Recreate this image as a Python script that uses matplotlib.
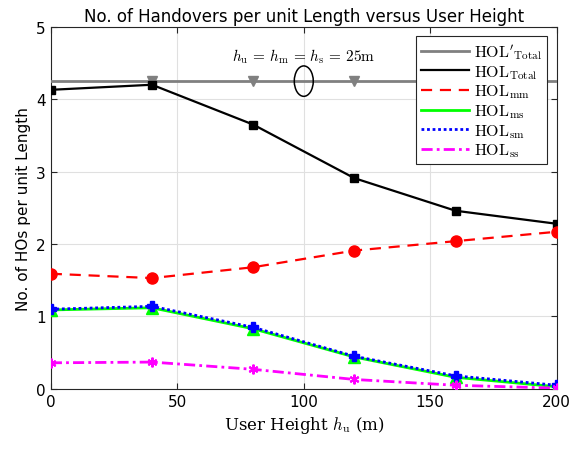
import numpy as np
import matplotlib
matplotlib.use('Agg')
import matplotlib.pyplot as plt
from matplotlib.patches import Ellipse
from matplotlib.lines import Line2D

plt.rcParams['mathtext.fontset'] = 'cm'
plt.rcParams['font.family'] = 'DejaVu Sans'

# user height (m)
h_u = [0, 40, 80, 120, 160, 200]
hol_total_p = [4.25, 4.25, 4.25, 4.25, 4.25, 4.25]
hol_total = [4.13, 4.20, 3.65, 2.91, 2.46, 2.28]
hol_mm = [1.59, 1.53, 1.68, 1.91, 2.04, 2.17]
hol_ms = [1.09, 1.12, 0.83, 0.44, 0.16, 0.03]
hol_sm = [1.10, 1.14, 0.85, 0.45, 0.18, 0.05]
hol_ss = [0.36, 0.37, 0.27, 0.13, 0.05, 0.01]

fig = plt.figure(figsize=(5.71, 4.56), dpi=100)
ax = fig.add_axes([0.089, 0.145, 0.886, 0.794])

styles = [
    dict(c='#808080', lw=2),
    dict(c='k', lw=1.6),
    dict(c='r', lw=1.6, ls=(0, (5, 3.5))),
    dict(c='#00ff00', lw=2),
    dict(c='b', lw=2, ls=(0, (1, 1))),
    dict(c='#ff00ff', lw=2, ls=(0, (4, 1.5, 1, 1.5))),
]
labels = [r"$\mathrm{HOL}'_{\mathrm{Total}}$", r'$\mathrm{HOL}_{\mathrm{Total}}$', r'$\mathrm{HOL}_{\mathrm{mm}}$',
          r'$\mathrm{HOL}_{\mathrm{ms}}$', r'$\mathrm{HOL}_{\mathrm{sm}}$', r'$\mathrm{HOL}_{\mathrm{ss}}$']

ax.plot(h_u, hol_total_p, marker='v', ms=7, markevery=[1, 2, 3, 4], zorder=3, **styles[0])
ax.plot(h_u, hol_total, marker='s', ms=6, zorder=4, **styles[1])
ax.plot(h_u, hol_mm, marker='o', ms=8, zorder=4, **styles[2])
ax.plot(h_u, hol_ms, marker='^', ms=8, zorder=4, **styles[3])
ax.plot(h_u, hol_sm, marker='P', ms=7, zorder=5, **styles[4])
ax.plot(h_u, hol_ss, marker=(6, 2, 0), ms=7, mew=1.5, zorder=5, **styles[5])

ax.add_patch(Ellipse((100, 4.25), 7.5, 0.42, fill=False, ec='k', lw=1.1, zorder=6))
ax.text(100, 4.6, r'$h_{\mathrm{u}}\,=\,h_{\mathrm{m}}\,=\,h_{\mathrm{s}}\,=\,25\mathrm{m}$',
        ha='center', va='center', fontsize=11)

ax.set_xlim(0, 200)
ax.set_ylim(0, 5)
ax.set_xticks([0, 50, 100, 150, 200])
ax.set_yticks([0, 1, 2, 3, 4, 5])
ax.grid(True, color='#e0e0e0', lw=0.8)
ax.set_axisbelow(True)
ax.tick_params(direction='in', top=True, right=True, labelsize=11, color='#262626', length=4)
for s in ax.spines.values():
    s.set_color('#262626')
    s.set_linewidth(0.8)

ax.set_title('No. of Handovers per unit Length versus User Height', fontsize=12, pad=4)
ax.set_ylabel('No. of HOs per unit Length', fontsize=11)
ax.set_xlabel(r'User Height $h_{\mathrm{u}}$ (m)', fontsize=12, family='DejaVu Serif')

handles = [Line2D([], [], **st) for st in styles]
leg = ax.legend(handles, labels, loc='upper right', fontsize=11.5, fancybox=False, edgecolor='#262626',
                framealpha=1, handlelength=3.0, borderpad=0.3, labelspacing=0.12, handletextpad=0.3,
                borderaxespad=0.6)
leg.get_frame().set_linewidth(0.8)

fig.savefig('out.png', dpi=100)
